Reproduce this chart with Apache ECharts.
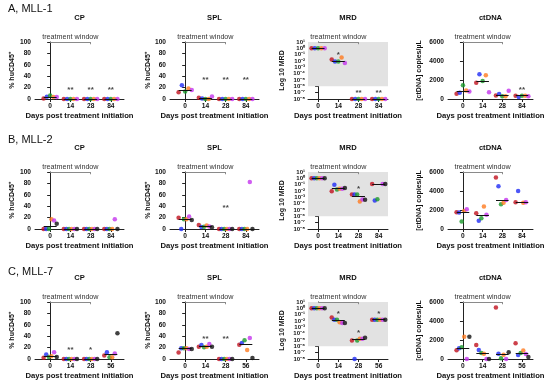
<!DOCTYPE html>
<html><head><meta charset="utf-8">
<script src="https://cdn.jsdelivr.net/npm/echarts@6/dist/echarts.min.js"></script>
<style>html,body{margin:0;padding:0;background:#fff}#c{width:550px;height:385px}</style>
</head><body><div id="c"></div>
<script>
// ---------- labels ----------
const rowLabels = ['A, MLL-1', 'B, MLL-2', 'C, MLL-7'];
const panelTitles = ['CP', 'SPL', 'MRD', 'ctDNA'];
const yNames = ['% huCD45⁺', '% huCD45⁺', 'Log 10 MRD', '[ctDNA] copies/µL'];
const xName = 'Days post treatment initiation';
const windowLabel = 'treatment window';
const daysA = ['0', '14', '28', '84'];
const daysB = ['0', '14', '28', '84'];
const daysC = ['0', '14', '28', '56'];
const mouseNames = ['Mouse 1', 'Mouse 2', 'Mouse 3', 'Mouse 4', 'Mouse 5', 'Mouse 6'];

// ---------- data (rows = mice, columns = days) ----------
const A_CP = [[1,0,0,0],[4,0,0,0],[6,0,0,0],[3.5,0,0,0],[3.5,0,0,0]];
const A_SPL = [[12,2,0,0],[24,1,0,0],[13,0,0,0],[18.5,0,0,0],[15.6,4.6,0,0]];
const A_MRD = [[1,0.017,1e-8,1e-8],[1,0.008,1e-8,1e-8],[1,0.008,1e-8,1e-8],[1,0.035,1e-8,1e-8],[1,0.005,1e-8,1e-8]];
const A_CT = [[555,1700,380,350],[660,2600,520,210],[1450,1900,280,350],[900,2500,280,350],[800,700,870,280]];

const B_CP = [[0,0,0,0],[0,0,0,0],[0,0,0,0],[17.3,0,0,0],[15,0,0,17.3],[9,0,0,0]];
const B_SPL = [[19.6,7,0,0],[0,3.5,0,0],[17,4,0,0],[17,6,0,0],[22,4.6,0,82.6],[16,3,0,0]];
const B_MRD = [[1,0.0091,0.00275,0.126],[1,0.1,0.00275,0.00032],[1,0.0166,0.00275,0.0005],[1,0.0234,0.00023,null],[1,0.0234,0.00047,0.126],[1,0.0295,0.00042,0.126]];
const B_CT = [[1770,1665,5410,2810],[1730,870,4510,3990],[800,1140,2600,null],[1900,2360,2770,2770],[2080,1490,3050,2810],[null,null,null,null]];

const C_CP = [[2,0,0,6],[7.7,0,0,12],[3.6,0,0,3],[4.8,0,0,3],[12,0,0,9.5],[3.6,0,0,45]];
const C_SPL = [[11.4,21.7,0,25],[19,24.6,0,28],[19,20.6,0,33],[19,21.7,0,16],[17.7,26.3,0,37],[17.7,21.7,0,1.7]];
const C_MRD = [[1,0.036,8.7e-6,0.0158],[1,0.0158,1e-8,0.0158],[1,0.0158,8.7e-6,0.0158],[1,0.0063,1.6e-5,0.0158],[1,0.005,1.6e-5,0.0158],[1,0.005,2.2e-5,0.0158]];
const C_CT = [[925,1470,5420,1650],[1130,960,550,410],[1230,620,70,620],[2330,550,445,890],[0,0,0,515],[2330,0,720,205]];

// significance marks per day
const A_CP_sig = ['', '**', '**', '**'];
const A_SPL_sig = ['', '**', '**', '**'];
const A_MRD_sig = ['', '*', '**', '**'];
const A_CT_sig = ['', '', '', '**'];
const B_CP_sig = ['', '', '', ''];
const B_SPL_sig = ['', '', '**', ''];
const B_MRD_sig = ['', '', '*', ''];
const B_CT_sig = ['', '', '', ''];
const C_CP_sig = ['', '**', '*', ''];
const C_SPL_sig = ['', '**', '**', ''];
const C_MRD_sig = ['', '*', '*', '*'];
const C_CT_sig = ['', '', '', ''];

// ---------- layout / style (not data) ----------
const A_CP_sigY = [null,20,20,20], A_SPL_sigY = [null,38,38,38], A_MRD_sigY = [null,0.2,2e-7,2e-7], A_CT_sigY = [null,null,null,1150];
const B_CP_sigY = [null,null,null,null], B_SPL_sigY = [null,null,40,null], B_MRD_sigY = [null,null,0.04,null], B_CT_sigY = [null,null,null,null];
const C_CP_sigY = [null,20,20,null], C_SPL_sigY = [null,39,39,null], C_MRD_sigY = [null,0.3,2.5e-4,0.3], C_CT_sigY = [null,null,null,null];

const mouseColors = ['#c0121e', '#1f2cf5', '#1a9a2a', '#ff7a1f', '#c435ee', '#111111'];
const colLeft = [35, 170, 308, 448];
const colWidth = [89, 89, 80, 85];
const xMin = [-0.75, -0.75, -0.5, -0.76];
const xMax = [3.65, 3.65, 3.46, 3.56];
const rowTop = [42, 172, 302];
const rowH = 57;
const rowLabelY = [9, 140, 272];
const titleY = [18, 148, 278];
const yNameGap = [19, 18, 22, 25];
const bracketTop = [100, 100, 10, 6000];
const bracketTick = [96, 96, 4.5, 5760];
const axisColor = '#222';
const FONT = '"Liberation Sans", Arial, sans-serif';

const panels = [
  [A_CP, daysA, A_CP_sig, A_CP_sigY], [A_SPL, daysA, A_SPL_sig, A_SPL_sigY], [A_MRD, daysA, A_MRD_sig, A_MRD_sigY], [A_CT, daysA, A_CT_sig, A_CT_sigY],
  [B_CP, daysB, B_CP_sig, B_CP_sigY], [B_SPL, daysB, B_SPL_sig, B_SPL_sigY], [B_MRD, daysB, B_MRD_sig, B_MRD_sigY], [B_CT, daysB, B_CT_sig, B_CT_sigY],
  [C_CP, daysC, C_CP_sig, C_CP_sigY], [C_SPL, daysC, C_SPL_sig, C_SPL_sigY], [C_MRD, daysC, C_MRD_sig, C_MRD_sigY], [C_CT, daysC, C_CT_sig, C_CT_sigY]
];

const supMap = {'-':'⁻','0':'⁰','1':'¹','2':'²','3':'³','4':'⁴','5':'⁵','6':'⁶','7':'⁷','8':'⁸','9':'⁹'};
function sup(n) { return String(n).split('').map(ch => supMap[ch] || ch).join(''); }
function median(arr) {
  const a = arr.filter(v => v != null).sort((x, y) => x - y);
  const n = a.length;
  if (!n) return null;
  return n % 2 ? a[(n - 1) / 2] : (a[n / 2 - 1] + a[n / 2]) / 2;
}

const option = {
  animation: false,
  textStyle: { fontFamily: FONT },
  grid: [], xAxis: [], yAxis: [], series: [], graphic: []
};

rowLabels.forEach((t, r) => {
  option.graphic.push({ type: 'text', x: 8, y: rowLabelY[r], silent: true,
    style: { text: t, font: '11px ' + FONT, fill: '#111', textAlign: 'left', textVerticalAlign: 'middle', align: 'left', verticalAlign: 'middle' } });
});

panels.forEach((p, idx) => {
  const [data, days, sig, sigY] = p;
  const r = Math.floor(idx / 4), c = idx % 4;
  const isLog = c === 2;
  option.graphic.push({ type: 'text', x: colLeft[c] + colWidth[c] / 2, y: titleY[r], silent: true,
    style: { text: panelTitles[c], font: 'bold 7.6px ' + FONT, fill: '#111', textAlign: 'center', textVerticalAlign: 'middle', align: 'center', verticalAlign: 'middle' } });

  option.grid.push({ left: colLeft[c], top: rowTop[r], width: colWidth[c], height: rowH });
  option.xAxis.push({
    gridIndex: idx, type: 'value', min: xMin[c], max: xMax[c],
    axisLine: { show: true, onZero: false, lineStyle: { color: axisColor, width: 1 } },
    axisTick: { show: true, customValues: [0, 1, 2, 3], length: 3, lineStyle: { color: axisColor } },
    axisLabel: { customValues: [0, 1, 2, 3], formatter: v => days[Math.round(v)], margin: 4, fontSize: 6.6, fontWeight: 'bold', color: '#111' },
    splitLine: { show: false },
    name: xName, nameLocation: 'middle', nameGap: 13,
    nameTextStyle: { fontSize: 7.7, fontWeight: 'bold', color: '#111' }
  });
  const yBase = {
    gridIndex: idx,
    axisLine: { show: true, lineStyle: { color: axisColor, width: 1 } },
    axisTick: { show: true, length: 3, lineStyle: { color: axisColor } },
    splitLine: { show: false },
    name: yNames[c], nameLocation: 'middle', nameGap: yNameGap[c],
    nameTextStyle: { fontSize: 7, fontWeight: 'bold', color: '#111' }
  };
  if (isLog) {
    option.yAxis.push(Object.assign(yBase, { type: 'log', logBase: 10, min: 1e-8, max: 10,
      axisLabel: { formatter: v => '10' + sup(Math.round(Math.log10(v))), fontSize: 6, fontWeight: 'bold', color: '#111', margin: 3 } }));
  } else if (c === 3) {
    option.yAxis.push(Object.assign(yBase, { type: 'value', min: 0, max: 6000, interval: 2000,
      axisLabel: { formatter: v => String(v), fontSize: 6.6, fontWeight: 'bold', color: '#111', margin: 4 } }));
  } else {
    option.yAxis.push(Object.assign(yBase, { type: 'value', min: 0, max: 100, interval: 20,
      axisLabel: { formatter: v => String(v), fontSize: 6.6, fontWeight: 'bold', color: '#111', margin: 4 } }));
  }

  // markers: medians, treatment window bracket, detection limit
  const ml = [];
  days.forEach((d, i) => {
    const med = median(data.map(m => m[i]));
    if (med != null) ml.push([{ coord: [i - 0.32, med], lineStyle: { color: '#111', width: 1, type: 'solid' } }, { coord: [i + 0.32, med] }]);
  });
  ml.push([{ coord: [0, bracketTop[c]], lineStyle: { color: '#8a8a8a', width: 1, type: 'solid' },
    label: { show: true, position: 'insideMiddleTop', formatter: windowLabel, color: '#333', fontSize: 7.2, distance: 1.5, fontFamily: FONT } },
    { coord: [2, bracketTop[c]] }]);
  ml.push([{ coord: [2, bracketTop[c]], lineStyle: { color: '#8a8a8a', width: 1, type: 'solid' } }, { coord: [2, bracketTick[c]] }]);
  if (isLog) ml.push({ yAxis: 1e-6, lineStyle: { color: '#222', width: 1, type: 'dotted' } });

  const markerSeries = {
    type: 'scatter', xAxisIndex: idx, yAxisIndex: idx, data: [], z: 1, silent: true,
    markLine: { silent: true, symbol: ['none', 'none'], label: { show: false }, data: ml, animation: false }
  };
  if (isLog) markerSeries.markArea = { silent: true, itemStyle: { color: '#e2e2e2' }, data: [[{ yAxis: 10 }, { yAxis: 1e-6 }]] };
  option.series.push(markerSeries);

  const n = data.length;
  data.forEach((m, k) => {
    const off = (k - (n - 1) / 2) * (0.65 / (n - 1));
    const pts = [];
    m.forEach((v, i) => { if (v != null) pts.push([i + off, v]); });
    option.series.push({
      type: 'scatter', name: mouseNames[k], xAxisIndex: idx, yAxisIndex: idx, z: 3, clip: false,
      symbol: 'circle', symbolSize: 4.5, itemStyle: { color: mouseColors[k] }, data: pts
    });
  });

  const sigPts = [];
  sig.forEach((s, i) => { if (s) sigPts.push({ value: [i, sigY[i]], name: s }); });
  if (sigPts.length) option.series.push({
    type: 'scatter', xAxisIndex: idx, yAxisIndex: idx, z: 4, clip: false, silent: true,
    symbolSize: 1, itemStyle: { color: 'rgba(0,0,0,0)' },
    label: { show: true, position: 'inside', formatter: '{b}', fontSize: 8, fontWeight: 'bold', color: '#111', offset: [0, 2] },
    data: sigPts
  });
});

const chart = echarts.init(document.getElementById('c'), null, { renderer: 'canvas' });
chart.setOption(option);
</script>
</body></html>
